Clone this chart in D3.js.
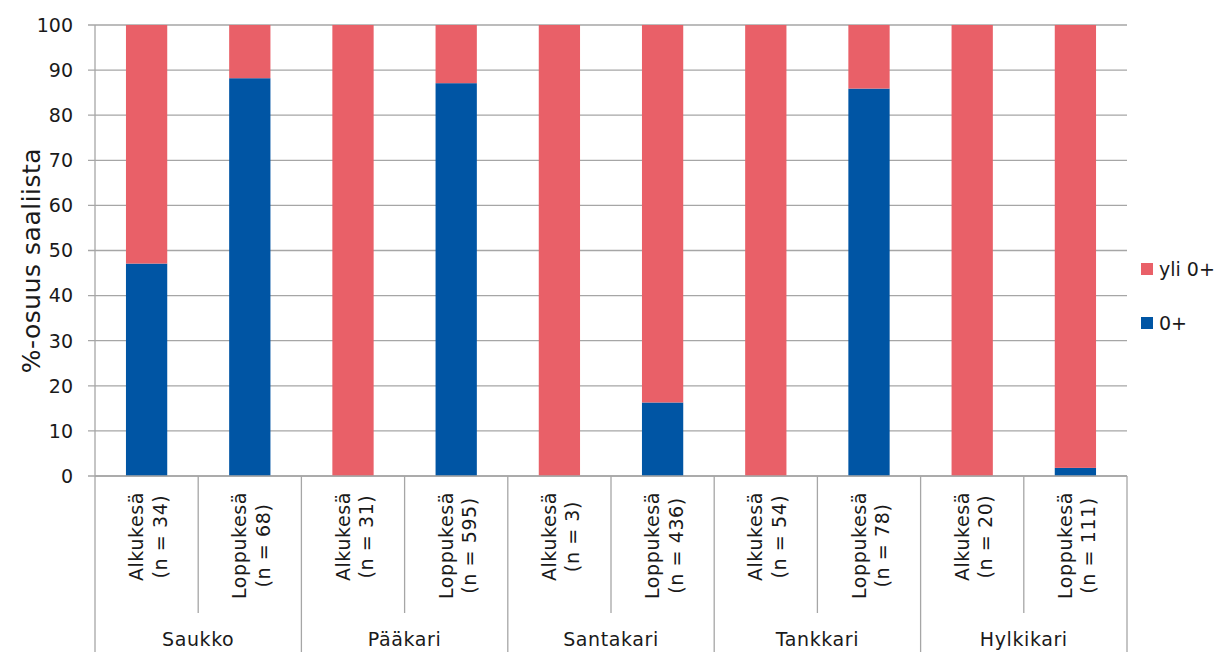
<!DOCTYPE html>
<html><head><meta charset="utf-8">
<script src="https://cdn.jsdelivr.net/npm/d3@7"></script>
<style>body{margin:0;background:#fff}svg{display:block}text{font-family:"DejaVu Sans",sans-serif;fill:#1a1a1a}</style>
</head><body>
<script>
const groups = ["Saukko","Pääkari","Santakari","Tankkari","Hylkikari"];
const periods = ["Alkukesä","Loppukesä","Alkukesä","Loppukesä","Alkukesä","Loppukesä","Alkukesä","Loppukesä","Alkukesä","Loppukesä"];
const nLabels = ["(n = 34)","(n = 68)","(n = 31)","(n = 595)","(n = 3)","(n = 436)","(n = 54)","(n = 78)","(n = 20)","(n = 111)"];
const young = [47.1, 88.2, 0, 87.1, 0, 16.3, 0, 85.9, 0, 1.8];
const older = young.map(v => 100 - v);
const seriesNames = ["0+","yli 0+"];
const yTicks = [0,10,20,30,40,50,60,70,80,90,100];

const W=1216,H=652, L=95, R=1127, T=25, B=476;
const svg=d3.select("body").append("svg").attr("width",W).attr("height",H);
const x=d3.scaleBand().domain(d3.range(10)).range([L,R]).paddingInner(0.6).paddingOuter(0.3);
const xs=d3.scaleLinear().domain([0,10]).range([L,R]);
const y=d3.scaleLinear().domain([0,100]).range([B,T]);
const grid="#a6a6a6";
const FS="19px", LS="0.6px";

svg.append("g").selectAll("line").data(yTicks).join("line")
 .attr("x1",L-7).attr("x2",R).attr("y1",d=>y(d)).attr("y2",d=>y(d))
 .attr("stroke",grid).attr("stroke-width",1.3);
svg.append("g").selectAll("text").data(yTicks).join("text")
 .attr("x",73).attr("y",d=>y(d)).attr("dy","0.36em").attr("text-anchor","end")
 .style("font-size",FS).text(d=>d);

const colors={"0+":"#0055a4","yli 0+":"#e96068"};
const stack=young.map((v,i)=>({i,y0:0,y1:v,c:colors["0+"]})).concat(older.map((v,i)=>({i,y0:young[i],y1:young[i]+v,c:colors["yli 0+"]})));
svg.append("g").selectAll("rect").data(stack.filter(d=>d.y1>d.y0)).join("rect")
 .attr("x",d=>x(d.i)).attr("width",x.bandwidth())
 .attr("y",d=>y(d.y1)).attr("height",d=>y(d.y0)-y(d.y1)).attr("fill",d=>d.c);

svg.append("line").attr("x1",L).attr("x2",R).attr("y1",B).attr("y2",B).attr("stroke",grid).attr("stroke-width",1.3);
svg.append("line").attr("x1",L).attr("x2",L).attr("y1",T).attr("y2",H).attr("stroke",grid).attr("stroke-width",1.3);
svg.append("g").selectAll("line").data(d3.range(1,11)).join("line")
 .attr("x1",d=>xs(d)).attr("x2",d=>xs(d)).attr("y1",B).attr("y2",d=>d%2===0?H:613)
 .attr("stroke",grid).attr("stroke-width",1.3);

d3.range(10).forEach(i=>{
  const cx=x(i)+x.bandwidth()/2;
  const g=svg.append("g");
  const t1=g.append("text").style("font-size",FS).style("letter-spacing",LS).attr("text-anchor","middle").text(periods[i]);
  const t2=g.append("text").style("font-size",FS).style("letter-spacing",LS).attr("text-anchor","middle").text(nLabels[i]);
  const len=Math.max(t1.node().getComputedTextLength(),t2.node().getComputedTextLength());
  const cy=492+len/2;
  t1.attr("transform",`translate(${cx-3.5},${cy}) rotate(-90)`);
  t2.attr("transform",`translate(${cx+20},${cy}) rotate(-90)`);
});
svg.append("g").selectAll("text").data(groups).join("text")
 .attr("x",(d,i)=>xs(i*2+1)).attr("y",646).attr("text-anchor","middle")
 .style("font-size",FS).style("letter-spacing",LS).text(d=>d);

svg.append("text").attr("transform",`translate(40,${(T+B)/2+10}) rotate(-90)`)
 .attr("text-anchor","middle").style("font-size","25px").style("letter-spacing","0.5px").text("%-osuus saaliista");

const leg=[{n:"yli 0+",y:269},{n:"0+",y:323}];
leg.forEach(d=>{
  svg.append("rect").attr("x",1141).attr("y",d.y-6).attr("width",12).attr("height",12).attr("fill",colors[d.n]);
  svg.append("text").attr("x",1159).attr("y",d.y).attr("dy","0.36em").style("font-size",FS).text(d.n);
});
</script>
</body></html>
